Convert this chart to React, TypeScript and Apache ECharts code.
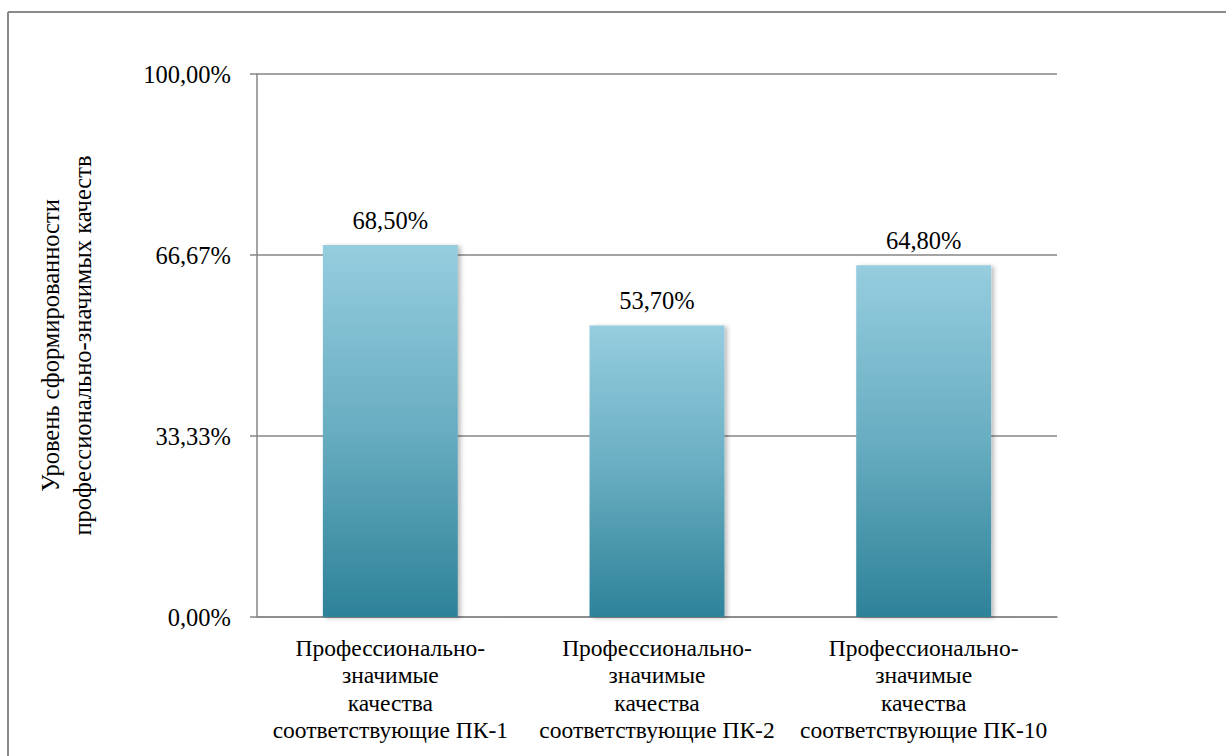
import React, { useEffect, useRef } from "react";
import * as echarts from "echarts";

const categories = [
  "Профессионально-\nзначимые\nкачества\nсоответствующие ПК-1",
  "Профессионально-\nзначимые\nкачества\nсоответствующие ПК-2",
  "Профессионально-\nзначимые\nкачества\nсоответствующие ПК-10",
];
const values = [0.685, 0.537, 0.648];
const yAxisTitle = "Уровень сформированности\nпрофессионально-значимых качеств";

const fmt = (v: number) => (v * 100).toFixed(2).replace(".", ",") + "%";

export default function App() {
  const ref = useRef<HTMLDivElement>(null);
  useEffect(() => {
    const chart = echarts.init(ref.current!, null, { renderer: "svg" });
    const font = "Liberation Serif";
    chart.setOption({
      animation: false,
      textStyle: { fontFamily: font },
      grid: { left: 257, right: 169, top: 74, bottom: 139 },
      graphic: [
        { type: "line", shape: { x1: 8, y1: 12, x2: 1226, y2: 12 }, style: { stroke: "#8a8a8a", lineWidth: 2 } },
        { type: "line", shape: { x1: 8, y1: 12, x2: 8, y2: 756 }, style: { stroke: "#8a8a8a", lineWidth: 2 } },
      ],
      xAxis: {
        type: "category",
        data: categories,
        axisLine: { lineStyle: { color: "#868686", width: 1.5 } },
        axisTick: { show: false },
        axisLabel: { color: "#000", fontSize: 23.5, lineHeight: 27.5, margin: 17, interval: 0, fontFamily: font },
      },
      yAxis: {
        type: "value",
        min: 0,
        max: 1,
        interval: 1 / 3,
        name: yAxisTitle,
        nameLocation: "middle",
        nameGap: 159,
        nameTextStyle: { color: "#000", fontSize: 24.5, lineHeight: 32, fontFamily: font },
        axisLine: { show: true, lineStyle: { color: "#868686", width: 1.5 } },
        axisTick: { show: true, length: 7, lineStyle: { color: "#868686", width: 1.5 } },
        splitLine: { lineStyle: { color: "#868686", width: 1.5 } },
        axisLabel: { color: "#000", fontSize: 24.5, margin: 26, formatter: (v: number) => fmt(v), fontFamily: font },
      },
      series: [
        {
          type: "bar",
          data: values,
          barWidth: "50.6%",
          itemStyle: {
            color: new echarts.graphic.LinearGradient(0, 0, 0, 1, [
              { offset: 0, color: "#96cddf" },
              { offset: 0.5, color: "#68adc1" },
              { offset: 1, color: "#2d8299" },
            ]),
            shadowColor: "rgba(0,0,0,0.25)",
            shadowBlur: 4,
            shadowOffsetX: 3,
            shadowOffsetY: 1,
          },
          label: {
            show: true,
            position: "top",
            distance: 12,
            color: "#000",
            fontSize: 24.5,
            fontFamily: font,
            formatter: (p: any) => fmt(p.value),
          },
        },
      ],
    });
    return () => chart.dispose();
  }, []);
  return (
    <div
      ref={ref}
      style={{ position: "fixed", left: 0, top: 0, width: 1226, height: 756, background: "#fff" }}
    />
  );
}
